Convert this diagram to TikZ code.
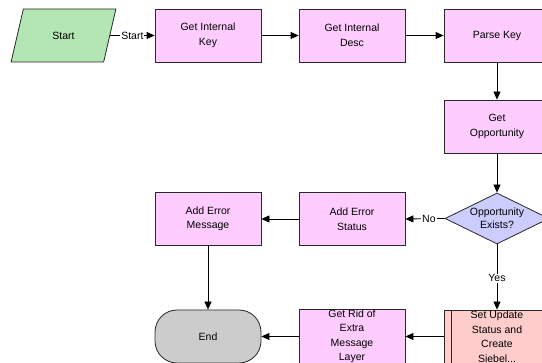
\documentclass[tikz,border=0pt]{standalone}
\usepackage{fontspec}
\setmainfont{Liberation Sans}
\usetikzlibrary{shapes.geometric,arrows.meta}
\definecolor{taskpink}{RGB}{255,204,255}
\definecolor{startgreen}{RGB}{179,230,179}
\definecolor{decision}{RGB}{204,204,255}
\definecolor{endgray}{RGB}{204,204,204}
\definecolor{subproc}{RGB}{255,204,204}
\definecolor{edgegray}{RGB}{40,40,40}
\tikzset{
  every node/.style={font=\fontsize{10.5}{14.5}\selectfont},
  task/.style={draw=edgegray, line width=0.8pt, fill=taskpink, minimum width=106pt,
    minimum height=53pt, inner sep=0pt, align=center},
  flow/.style={draw=black, line width=0.8pt, -{Triangle[length=8pt,width=7pt]}},
  lbl/.style={fill=white, inner sep=1pt}
}
\begin{document}
\begin{tikzpicture}[x=1pt,y=-1pt]
  \useasboundingbox (0,0) rectangle (542,363);

  % start event
  \node[trapezium, trapezium left angle=65.6, trapezium right angle=114.4,
        trapezium stretches=true, minimum width=105pt, minimum height=53pt,
        draw=edgegray, line width=0.8pt, fill=startgreen, inner sep=0pt]
        (start) at (63.5,35.5) {Start};

  % first row
  \node[task] (key)   at (208,35.5) {Get Internal\\Key};
  \node[task] (desc)  at (352,35.5) {Get Internal\\Desc};
  \node[task] (parse) at (497,35.5) {Parse Key};

  % right column
  \node[task] (opp) at (497,126.5) {Get\\Opportunity};
  \node[diamond, draw=edgegray, line width=0.8pt, fill=decision,
        minimum width=104pt, minimum height=51pt, inner sep=0pt] (exists) at (497,218.5) {};
  \node[align=center, font=\fontsize{10.5}{13}\selectfont] (existstxt) at (exists.center) {Opportunity\\Exists?};

  % error branch
  \node[task] (status) at (352,219) {Add Error\\Status};
  \node[task] (msg)    at (208,219) {Add Error\\Message};

  % bottom row
  \node[task, fill=subproc] (update) at (497,336.5) {Set Update\\Status and\\Create\\Siebel...};
  \draw[edgegray, line width=0.8pt] ([xshift=8pt]update.north west) -- ([xshift=8pt]update.south west)
        ([xshift=-8pt]update.north east) -- ([xshift=-8pt]update.south east);
  \node[task] (layer) at (352,336.5) {Get Rid of\\Extra\\Message\\Layer};
  \node[draw=edgegray, line width=0.8pt, fill=endgray, minimum width=106pt, minimum height=53pt,
        rounded corners=22pt, inner sep=0pt] (end) at (208,336.5) {End};

  % connectors
  \draw[flow] (start.east) -- node[lbl] {Start} (key.west);
  \draw[flow] (key) -- (desc);
  \draw[flow] (desc) -- (parse);
  \draw[flow] (parse) -- (opp);
  \draw[flow] (opp) -- (exists.north);
  \draw[flow] (exists.west) -- node[lbl, pos=0.4] {No} (status.east);
  \draw[flow] (exists.south) -- node[lbl, pos=0.52] {Yes} (update.north);
  \draw[flow] (status) -- (msg);
  \draw[flow] (msg) -- (end);
  \draw[flow] (update) -- (layer);
  \draw[flow] (layer) -- (end);
\end{tikzpicture}
\end{document}
